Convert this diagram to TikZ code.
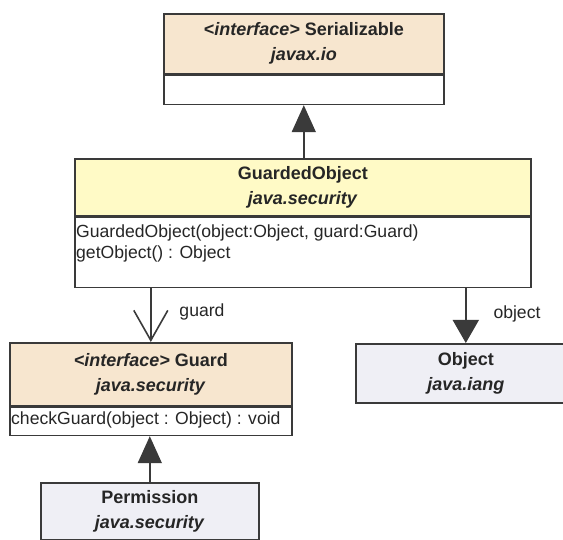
\documentclass[tikz,border=0pt]{standalone}
\usepackage{fontspec}
\setmainfont{Liberation Sans}
\usetikzlibrary{arrows.meta}

\definecolor{edge}{HTML}{3A3A3A}
\definecolor{ifacefill}{HTML}{F7E6CF}
\definecolor{classfill}{HTML}{FFFAC6}
\definecolor{extfill}{HTML}{EFEFF5}

\newcommand\titlefont{\fontsize{18pt}{25pt}\selectfont\bfseries}
\newcommand\opfont{\fontsize{17.6pt}{21pt}\selectfont}

\tikzset{
  umlbox/.style={draw=edge, line width=1.6pt, inner sep=0pt, anchor=north west,
    align=center, font=\titlefont, text=black!85},
  umlcomp/.style={draw=edge, line width=1.6pt, inner sep=0pt, anchor=north west, fill=white},
  optext/.style={inner sep=0pt, anchor=base west, font=\opfont, text=black!85},
  lbl/.style={inner sep=0pt, font=\opfont, text=black!85},
  conn/.style={draw=edge, line width=1.6pt},
  gen/.style={conn, -{Triangle[length=27pt,width=24pt]}},
  navopen/.style={conn, -{Straight Barb[length=30pt,width=34pt]}},
  navfill/.style={conn, -{Triangle[length=23pt,width=26pt]}},
}

\begin{document}
\begin{tikzpicture}[x=1pt,y=-1pt]
\useasboundingbox (0,0) rectangle (563,540);
\clip (0,0) rectangle (563,540);

% Serializable interface
\node[umlbox, fill=ifacefill, minimum width=280pt, minimum height=60pt] (ser) at (163,13)
  {\textit{<interface>} Serializable\\\textit{javax.io}};
\node[umlcomp, minimum width=280pt, minimum height=29pt] (serc) at (ser.south west) {};

% GuardedObject class
\node[umlbox, fill=classfill, minimum width=456pt, minimum height=57pt] (gob) at (74,158)
  {GuardedObject\\\textit{java.security}};
\node[umlcomp, minimum width=456pt, minimum height=70pt] (gobc) at (gob.south west) {};
\node[optext] (gobm1) at (76,237.5) {GuardedObject(object:Object, guard:Guard)};
\node[optext] (gobm2) at (76,258.5) {getObject() : Object};

% Guard interface
\node[umlbox, fill=ifacefill, minimum width=282pt, minimum height=63pt] (guard) at (9,342)
  {\textit{<interface>} Guard\\\textit{java.security}};
\node[umlcomp, minimum width=282pt, minimum height=28pt] (guardc) at (guard.south west) {};
\node[optext] (guardm) at (11,424.5) {checkGuard(object : Object) : void};

% Object class
\node[umlbox, fill=extfill, minimum width=220pt, minimum height=59pt] (obj) at (355,343)
  {Object\\\textit{java.iang}};

% Permission class
\node[umlbox, fill=extfill, minimum width=218pt, minimum height=57pt] (perm) at (40,482)
  {Permission\\\textit{java.security}};

% relations
\draw[gen] (ser.south |- gob.north) -- (serc.south);
\draw[navopen] (gobc.south -| guard.north) -- (guard.north);
\draw[navfill] (gobc.south -| obj.north) -- (obj.north);
\draw[gen] (perm.north) -- (perm.north |- guardc.south);

% role names
\node[lbl] (lguard) at (202,312) {guard};
\node[lbl] (lobject) at (517,314) {object};
\end{tikzpicture}
\end{document}
